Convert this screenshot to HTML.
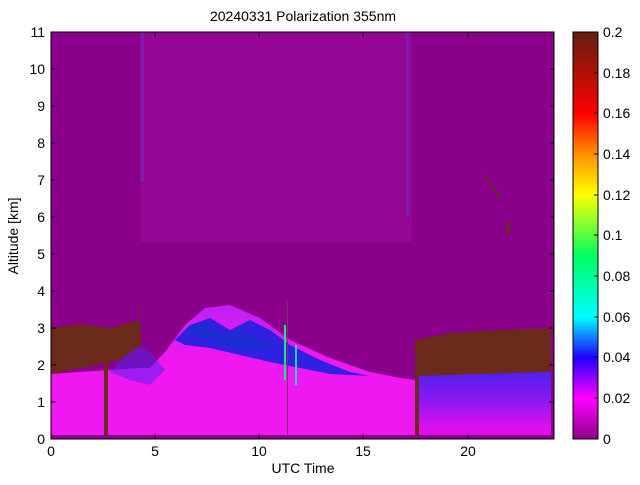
<!DOCTYPE html>
<html><head><style>
body{margin:0;background:#fff;width:640px;height:480px;overflow:hidden}
svg{font-family:"Liberation Sans",sans-serif}
</style></head><body>
<svg width="640" height="480" xmlns="http://www.w3.org/2000/svg">
<defs>
<linearGradient id="cb" x1="0" y1="1" x2="0" y2="0">
<stop offset="0" stop-color="#8b008b"/>
<stop offset="0.1" stop-color="#ff00ff"/>
<stop offset="0.2" stop-color="#2000ff"/>
<stop offset="0.3" stop-color="#00ffff"/>
<stop offset="0.45" stop-color="#00ff60"/>
<stop offset="0.6" stop-color="#ffff00"/>
<stop offset="0.7" stop-color="#ff9000"/>
<stop offset="0.8" stop-color="#ff0000"/>
<stop offset="1" stop-color="#602010"/>
</linearGradient>
<linearGradient id="rb" x1="0" y1="0" x2="0" y2="1">
<stop offset="0" stop-color="#5020f0"/>
<stop offset="0.45" stop-color="#9018f0"/>
<stop offset="0.8" stop-color="#d810ec"/>
<stop offset="1" stop-color="#e010e8"/>
</linearGradient>
<linearGradient id="lb" x1="0" y1="0" x2="0" y2="1">
<stop offset="0" stop-color="#c020f4"/>
<stop offset="0.4" stop-color="#f018f0"/>
<stop offset="1" stop-color="#f018f0"/>
</linearGradient>
<clipPath id="pc"><rect x="51" y="32" width="503" height="407"/></clipPath>
</defs>
<text x="303" y="21" font-size="14" text-anchor="middle">20240331 Polarization 355nm</text>
<g clip-path="url(#pc)">
<rect x="51" y="32" width="503" height="407" fill="#8b008b"/>
<rect x="140" y="32" width="272" height="210" fill="#c030c8" opacity="0.15"/>
<rect x="141" y="32" width="3" height="150" fill="#6040e0" opacity="0.35"/>
<rect x="406" y="32" width="3" height="185" fill="#6040e0" opacity="0.35"/>
<!-- magenta aerosol -->
<path d="M51,374 L139,368 L150,368 L165,352 L185,325 L205,308 L230,305 L260,318 L290,340 L330,358 L370,372 L400,378 L416,380 L416,439 L51,439 Z" fill="url(#lb)"/>
<!-- left blue below brown -->
<path d="M110,372 L125,355 L139,345 L150,352 L165,370 L150,385 L130,380 Z" fill="#5a20f0" opacity="0.55"/>
<!-- brown layers -->
<path d="M51,328 L80,324 L110,328 L139,320 L139,292 L141,345 L120,360 L51,374 Z" fill="#6b2a1a"/>
<path d="M416,340 L450,333 L500,330 L551,328 L551,374 L480,375 L416,378 Z" fill="#6b2a1a"/>
<!-- central blue band -->
<path d="M175,340 L190,325 L210,318 L230,330 L250,320 L270,330 L290,345 L320,360 L350,372 L370,376 L330,374 L300,368 L270,362 L240,355 L210,348 L185,345 Z" fill="#3020e0"/>
<path d="M185,330 L205,322 L220,335 L240,330 L260,340 L275,348 L250,350 L220,345 Z" fill="#1a30d0" opacity="0.8"/>
<!-- right band -->
<path d="M416,376 L551,372 L551,439 L416,439 Z" fill="url(#rb)"/>
<!-- streaks -->
<rect x="284" y="325" width="2" height="55" fill="#20e090"/>
<rect x="295" y="345" width="2" height="40" fill="#20d0e0"/>
<!-- verticals -->
<rect x="104" y="358" width="4" height="78" fill="#6b2a1a"/>
<rect x="415" y="340" width="4" height="96" fill="#6b2a1a"/>
<rect x="287" y="300" width="1" height="139" fill="#803060"/>
<rect x="51" y="435" width="500" height="4" fill="#8b008b"/>
<rect x="551" y="32" width="3" height="407" fill="#8b008b"/>
<path d="M485,175 L495,190 L500,198" stroke="#6b2a1a" stroke-width="2" fill="none"/>
<rect x="507" y="222" width="3" height="12" fill="#6b2a1a"/>
</g>
<rect x="51" y="32" width="503" height="407" fill="none" stroke="#000" stroke-width="1"/>
<g stroke="#000" stroke-width="1">
<path d="M155,439v-5M259,439v-5M363,439v-5M468,439v-5M155,32v5M259,32v5M363,32v5M468,32v5"/>
<path d="M51,402h5M51,365h5M51,328h5M51,291h5M51,254h5M51,217h5M51,180h5M51,143h5M51,106h5M51,69h5"/>
<path d="M554,402h-5M554,365h-5M554,328h-5M554,291h-5M554,254h-5M554,217h-5M554,180h-5M554,143h-5M554,106h-5M554,69h-5"/>
</g>
<g font-size="14" text-anchor="middle">
<text x="51" y="456">0</text><text x="155" y="456">5</text><text x="259" y="456">10</text><text x="363" y="456">15</text><text x="468" y="456">20</text>
<text x="303" y="473">UTC Time</text>
</g>
<g font-size="14" text-anchor="end">
<text x="45" y="444">0</text><text x="45" y="407">1</text><text x="45" y="370">2</text><text x="45" y="333">3</text><text x="45" y="296">4</text><text x="45" y="259">5</text><text x="45" y="222">6</text><text x="45" y="185">7</text><text x="45" y="148">8</text><text x="45" y="111">9</text><text x="45" y="74">10</text><text x="45" y="37">11</text>
</g>
<text transform="translate(18,236) rotate(-90)" font-size="14" text-anchor="middle">Altitude [km]</text>
<rect x="573" y="32" width="25" height="407" fill="url(#cb)" stroke="#000"/>
<g stroke="#000"><path d="M598,398h-4M598,357h-4M598,317h-4M598,276h-4M598,235h-4M598,195h-4M598,154h-4M598,113h-4M598,73h-4"/></g>
<g font-size="14">
<text x="603" y="444">0</text><text x="603" y="403">0.02</text><text x="603" y="362">0.04</text><text x="603" y="322">0.06</text><text x="603" y="281">0.08</text><text x="603" y="240">0.1</text><text x="603" y="200">0.12</text><text x="603" y="159">0.14</text><text x="603" y="118">0.16</text><text x="603" y="78">0.18</text><text x="603" y="37">0.2</text>
</g>
</svg>
</body></html>
